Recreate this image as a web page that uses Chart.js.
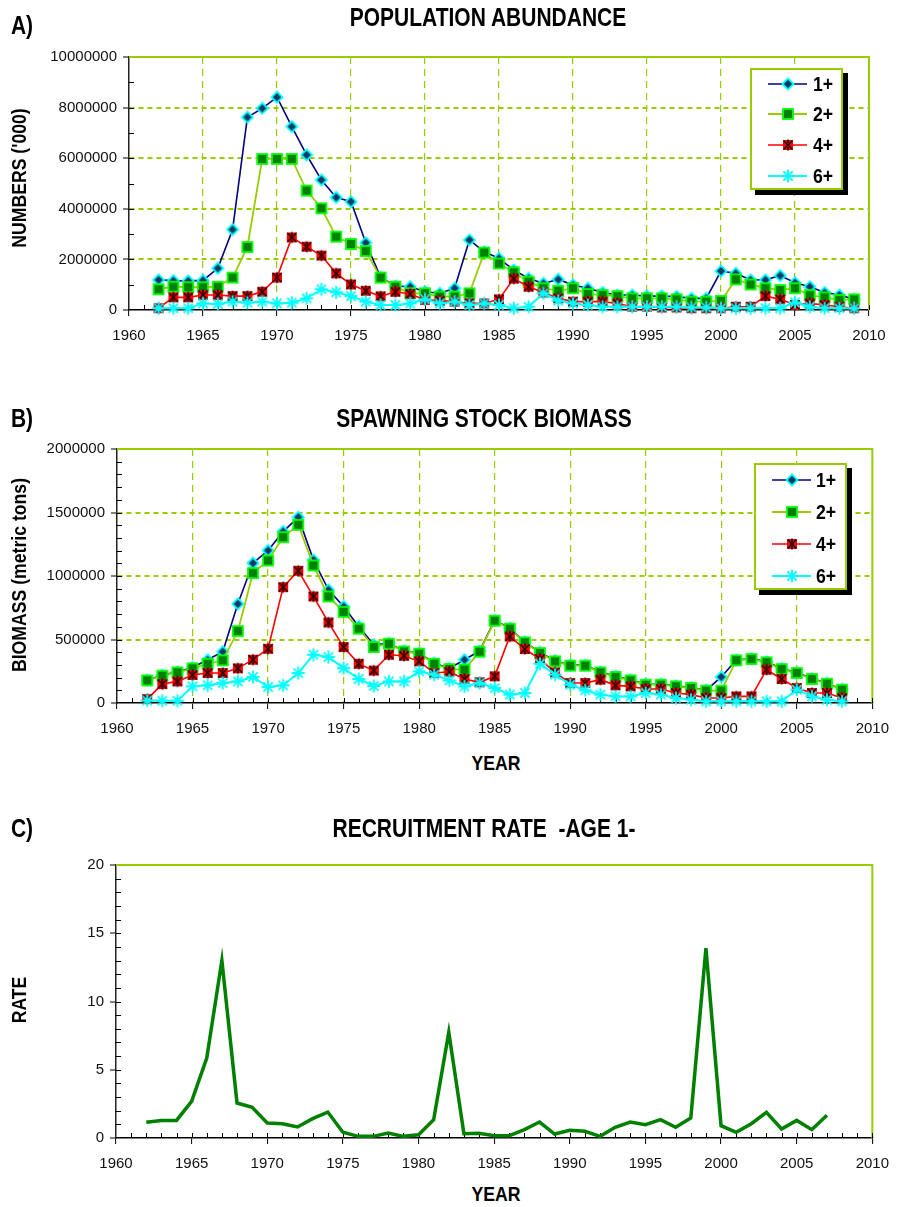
<!DOCTYPE html>
<html><head><meta charset="utf-8">
<script src="https://cdn.jsdelivr.net/npm/chart.js@4.4.0/dist/chart.umd.min.js"></script>
<style>
body{margin:0;width:900px;height:1207px;position:relative;background:#fff;overflow:hidden;font-family:'Liberation Sans Narrow','Arial Narrow','Liberation Sans',Arial,sans-serif;}
canvas.ch{position:absolute;left:0;}
.t{position:absolute;font-weight:bold;color:#000;white-space:pre;line-height:1;}
.lg{position:absolute;background:#fff;border:2px solid #99CC00;box-shadow:5px 5px 0 #000;box-sizing:border-box;}
.lg .row{position:absolute;left:0;height:24px;}
.lg canvas{position:absolute;left:14px;top:0;}
.lg span{position:absolute;top:2px;font-weight:bold;font-size:21px;line-height:20px;transform:scaleX(0.84);transform-origin:left center;}
</style></head>
<body>
<canvas id="cA" class="ch" width="900" height="350" style="top:0px"></canvas>
<canvas id="cB" class="ch" width="900" height="360" style="top:380px"></canvas>
<canvas id="cC" class="ch" width="900" height="380" style="top:790px"></canvas>
<div id="lgA" class="lg" style="left:750px;top:68px;width:93px;height:122px"></div>
<div id="lgB" class="lg" style="left:754px;top:463px;width:93px;height:127px"></div>
<script>
// ---------------- DATA ----------------
const seriesLabels = ['1+', '2+', '4+', '6+'];

const yearsA = [1962,1963,1964,1965,1966,1967,1968,1969,1970,1971,1972,1973,1974,1975,1976,1977,1978,1979,1980,1981,1982,1983,1984,1985,1986,1987,1988,1989,1990,1991,1992,1993,1994,1995,1996,1997,1998,1999,2000,2001,2002,2003,2004,2005,2006,2007,2008,2009];
const abund1 = [1190000,1160000,1150000,1170000,1650000,3180000,7620000,7970000,8410000,7250000,6130000,5140000,4450000,4280000,2660000,1300000,950000,920000,720000,660000,860000,2770000,2300000,2040000,1580000,1250000,1050000,1210000,990000,860000,690000,590000,590000,550000,550000,530000,460000,460000,1540000,1450000,1190000,1190000,1360000,1080000,920000,690000,590000,420000];
const abund2 = [820000,920000,900000,900000,920000,1280000,2490000,5970000,5970000,5970000,4720000,4020000,2900000,2610000,2330000,1280000,920000,660000,660000,530000,530000,660000,2270000,1840000,1490000,1120000,860000,760000,860000,630000,590000,550000,460000,460000,460000,420000,330000,330000,360000,1210000,1010000,860000,790000,860000,590000,500000,400000,420000];
const abund4 = [70000,500000,500000,590000,590000,550000,550000,720000,1280000,2870000,2500000,2150000,1450000,1010000,760000,540000,720000,630000,400000,370000,330000,260000,260000,420000,1240000,920000,690000,460000,330000,330000,330000,260000,130000,130000,100000,100000,70000,70000,70000,130000,130000,550000,420000,200000,260000,200000,130000,70000];
const abund6 = [70000,70000,70000,260000,240000,330000,290000,330000,260000,290000,460000,820000,700000,550000,330000,200000,200000,260000,420000,260000,330000,200000,260000,200000,70000,130000,660000,370000,260000,200000,130000,130000,130000,130000,130000,130000,100000,100000,70000,70000,70000,70000,70000,300000,130000,70000,70000,70000];

const yearsB = [1962,1963,1964,1965,1966,1967,1968,1969,1970,1971,1972,1973,1974,1975,1976,1977,1978,1979,1980,1981,1982,1983,1984,1985,1986,1987,1988,1989,1990,1991,1992,1993,1994,1995,1996,1997,1998,1999,2000,2001,2002,2003,2004,2005,2006,2007,2008];
const ssb1 = [180000,220000,245000,280000,340000,404000,781000,1101000,1201000,1350000,1463000,1127000,891000,760000,603000,459000,470000,410000,392000,315000,272000,341000,410000,650000,590000,480000,398000,333000,298000,298000,245000,210000,182000,148000,148000,135000,122000,100000,205000,338000,350000,325000,272000,240000,192000,155000,108000];
const ssb2 = [178000,215000,241000,273000,309000,336000,566000,1023000,1122000,1306000,1403000,1083000,839000,718000,585000,440000,467000,406000,388000,309000,267000,262000,404000,648000,585000,477000,393000,328000,294000,294000,241000,205000,178000,144000,144000,131000,118000,97000,97000,336000,346000,320000,267000,236000,189000,152000,105000];
const ssb4 = [31000,149000,170000,220000,236000,236000,273000,341000,427000,912000,1041000,839000,634000,440000,309000,255000,380000,372000,328000,236000,246000,189000,163000,210000,524000,425000,346000,241000,157000,157000,184000,139000,131000,110000,110000,79000,66000,39000,39000,52000,52000,262000,189000,118000,79000,79000,39000];
const ssb6 = [20000,18000,18000,131000,139000,157000,170000,205000,126000,139000,236000,380000,362000,275000,189000,134000,170000,170000,249000,223000,178000,131000,157000,118000,66000,79000,309000,223000,144000,100000,66000,52000,52000,79000,66000,39000,26000,13000,13000,13000,13000,13000,13000,105000,52000,26000,13000];

const yearsC = [1962,1963,1964,1965,1966,1967,1968,1969,1970,1971,1972,1973,1974,1975,1976,1977,1978,1979,1980,1981,1982,1983,1984,1985,1986,1987,1988,1989,1990,1991,1992,1993,1994,1995,1996,1997,1998,1999,2000,2001,2002,2003,2004,2005,2006,2007];
const recruitRate = [1.15,1.29,1.29,2.69,5.86,13.0,2.56,2.25,1.10,1.05,0.81,1.42,1.90,0.42,0.12,0.12,0.37,0.12,0.24,1.34,7.74,0.32,0.34,0.17,0.17,0.61,1.17,0.29,0.56,0.49,0.12,0.78,1.17,0.98,1.34,0.78,1.47,13.9,0.90,0.42,1.05,1.88,0.66,1.29,0.61,1.66];

// ---------------- STYLE ----------------
const F = "'Liberation Sans',Arial,sans-serif";
const GRID = '#99CC00';

function mk(w, h, fn){ const c = document.createElement('canvas'); c.width = w; c.height = h; fn(c.getContext('2d'), w/2, h/2); return c; }
const mDiamond = mk(14,14,(g,cx,cy)=>{ g.beginPath(); g.moveTo(cx,cy-5.5); g.lineTo(cx+5.5,cy); g.lineTo(cx,cy+5.5); g.lineTo(cx-5.5,cy); g.closePath(); g.fillStyle='#0b3a66'; g.fill(); g.strokeStyle='#00ffff'; g.lineWidth=1.8; g.stroke(); });
const mSquare = mk(14,14,(g,cx,cy)=>{ g.fillStyle='#008000'; g.fillRect(cx-5,cy-5,10,10); g.strokeStyle='#00ff00'; g.lineWidth=1.8; g.strokeRect(cx-5,cy-5,10,10); });
const mXsq = mk(14,14,(g,cx,cy)=>{ g.fillStyle='#ff0000'; g.fillRect(cx-5,cy-5,10,10); g.strokeStyle='#000'; g.lineWidth=1.4; g.beginPath(); g.moveTo(cx-4.5,cy-4.5); g.lineTo(cx+4.5,cy+4.5); g.moveTo(cx+4.5,cy-4.5); g.lineTo(cx-4.5,cy+4.5); g.moveTo(cx,cy-5.5); g.lineTo(cx,cy-2); g.moveTo(cx,cy+2); g.lineTo(cx,cy+5.5); g.stroke(); });
const mStar = mk(16,16,(g,cx,cy)=>{ g.strokeStyle='#00ffff'; g.lineWidth=1.8; g.beginPath(); const r=6.5, d=4.6; g.moveTo(cx,cy-r); g.lineTo(cx,cy+r); g.moveTo(cx-r,cy); g.lineTo(cx+r,cy); g.moveTo(cx-d,cy-d); g.lineTo(cx+d,cy+d); g.moveTo(cx+d,cy-d); g.lineTo(cx-d,cy+d); g.stroke(); });

const seriesStyle = [
  {color:'#000080', width:1.6, marker:mDiamond, order:4},
  {color:'#99CC00', width:1.8, marker:mSquare, order:3},
  {color:'#ff0000', width:1.6, marker:mXsq, order:2},
  {color:'#00ffff', width:2, marker:mStar, order:1}
];

function ds(i, years, vals){
  const s = seriesStyle[i];
  return {label:seriesLabels[i], data:years.map((y,k)=>({x:y, y:vals[k]})), borderColor:s.color, backgroundColor:s.color,
    borderWidth:s.width, pointStyle:s.marker, pointRadius:5, pointHoverRadius:5, tension:0, clip:false, order:s.order};
}

const framePlugin = {
  id:'frame',
  beforeDatasetsDraw(chart){
    const {ctx, chartArea:a, scales} = chart;
    const o = chart.options.plugins.frame;
    ctx.save();
    ctx.strokeStyle = GRID; ctx.lineWidth = 2;
    ctx.beginPath(); ctx.moveTo(a.left, a.top); ctx.lineTo(a.right, a.top); ctx.lineTo(a.right, a.bottom); ctx.stroke();
    ctx.strokeStyle = '#000'; ctx.lineWidth = 1;
    ctx.beginPath();
    for (let yr = 1961; yr <= 2010; yr++){
      const px = Math.round(scales.x.getPixelForValue(yr)) + 0.5;
      ctx.moveTo(px, a.bottom); ctx.lineTo(px, a.bottom - 5);
    }
    for (let v = o.yMinor; v < scales.y.max; v += o.yMinor){
      const py = Math.round(scales.y.getPixelForValue(v)) + 0.5;
      ctx.moveTo(a.left, py); ctx.lineTo(a.left + 5, py);
    }
    ctx.stroke();
    ctx.restore();
  }
};

function xAxis(h, drawGrid){
  return {
    type:'linear', min:1960, max:2010,
    afterFit: s => { s.height = h; },
    ticks:{stepSize:5, autoSkip:false, maxRotation:0, callback:v=>String(v), font:{family:F, size:15}, color:'#111', padding:11},
    grid:{drawOnChartArea:drawGrid, color:c => (c.tick && (c.tick.value===1960 || c.tick.value===2010)) ? 'rgba(0,0,0,0)' : GRID,
      lineWidth:1.2, tickColor:'#000', tickLength:6, tickWidth:1},
    border:{display:true, color:'#000', width:1.5, dash:[7,5]}
  };
}
function yAxis(w, max, step, drawGrid){
  return {
    type:'linear', min:0, max:max,
    afterFit: s => { s.width = w; },
    ticks:{stepSize:step, callback:v=>String(v), font:{family:F, size:15}, color:'#111', padding:6},
    grid:{drawOnChartArea:drawGrid, color:c => (c.tick && (c.tick.value===0 || c.tick.value===max)) ? 'rgba(0,0,0,0)' : GRID,
      lineWidth:2, tickColor:'#000', tickLength:6, tickWidth:1},
    border:{display:true, color:'#222', width:1.5, dash:[5,4]}
  };
}
function baseOpts(pad, xs, ys, yMinor){
  return {responsive:false, animation:false, devicePixelRatio:1, events:[],
    layout:{padding:pad},
    plugins:{legend:{display:false}, tooltip:{enabled:false}, title:{display:false}, frame:{yMinor:yMinor}},
    scales:{x:xs, y:ys}};
}

const chartA = new Chart(document.getElementById('cA'), {
  type:'line',
  data:{datasets:[ds(0,yearsA,abund1), ds(1,yearsA,abund2), ds(2,yearsA,abund4), ds(3,yearsA,abund6)]},
  options: baseOpts({top:57, left:0, right:31, bottom:0}, xAxis(40, true), yAxis(129, 10000000, 2000000, true), 1000000),
  plugins:[framePlugin]
});
const chartB = new Chart(document.getElementById('cB'), {
  type:'line',
  data:{datasets:[ds(0,yearsB,ssb1), ds(1,yearsB,ssb2), ds(2,yearsB,ssb4), ds(3,yearsB,ssb6)]},
  options: baseOpts({top:69, left:0, right:24, bottom:0}, xAxis(37, true), yAxis(117, 2000000, 500000, true), 100000),
  plugins:[framePlugin]
});
const chartC = new Chart(document.getElementById('cC'), {
  type:'line',
  data:{datasets:[{label:'RATE', data:yearsC.map((y,k)=>({x:y, y:recruitRate[k]})), borderColor:'#008000', borderWidth:3.5, pointRadius:0, tension:0, clip:false, fill:false}]},
  options: baseOpts({top:75, left:0, right:19, bottom:0}, xAxis(32, false), yAxis(116, 20, 5, false), 1),
  plugins:[framePlugin]
});

// ---------------- LEGENDS ----------------
function buildLegend(el, chart, rows, lineX0, lineX1, textX){
  chart.data.datasets.forEach((d, i) => {
    const row = document.createElement('div'); row.className = 'row';
    row.style.top = (rows[i] - 12) + 'px'; row.style.width = '100%';
    const c = document.createElement('canvas'); c.width = 48; c.height = 24; c.style.left = (lineX0 - 4) + 'px';
    const g = c.getContext('2d');
    g.strokeStyle = d.borderColor; g.lineWidth = d.borderWidth;
    g.beginPath(); g.moveTo(4, 12); g.lineTo(4 + lineX1 - lineX0, 12); g.stroke();
    const m = d.pointStyle; const mid = 4 + (lineX1 - lineX0) / 2;
    g.drawImage(m, Math.round(mid - m.width/2), Math.round(12 - m.height/2));
    row.appendChild(c);
    const sp = document.createElement('span'); sp.textContent = d.label; sp.style.left = textX + 'px';
    row.appendChild(sp);
    el.appendChild(row);
  });
}
buildLegend(document.getElementById('lgA'), chartA, [14, 44, 75, 106], 16, 55, 61);
buildLegend(document.getElementById('lgB'), chartB, [15, 47, 79, 111], 16, 55, 60);

// ---------------- TEXT ----------------
function label(text, cx, cy, size, rot){
  const d = document.createElement('div'); d.className = 't'; d.textContent = text;
  d.style.fontSize = size + 'px'; d.style.left = cx + 'px'; d.style.top = cy + 'px';
  d.style.transform = 'translate(-50%,-50%)' + (rot ? ' rotate(-90deg)' : '') + ' scaleX(0.84)';
  document.body.appendChild(d);
}
label('A)', 22, 25, 25);
label('POPULATION ABUNDANCE', 488, 17, 25);
label("NUMBERS ('000)", 18, 178, 21, true);
label('B)', 22, 418, 25);
label('SPAWNING STOCK BIOMASS', 484, 418, 25);
label('BIOMASS (metric tons)', 18, 575, 21, true);
label('YEAR', 496, 762, 21);
label('C)', 22, 828, 25);
label('RECRUITMENT RATE  -AGE 1-', 484, 828, 25);
label('RATE', 18, 1000, 21, true);
label('YEAR', 496, 1193, 21);
</script>
</body></html>
